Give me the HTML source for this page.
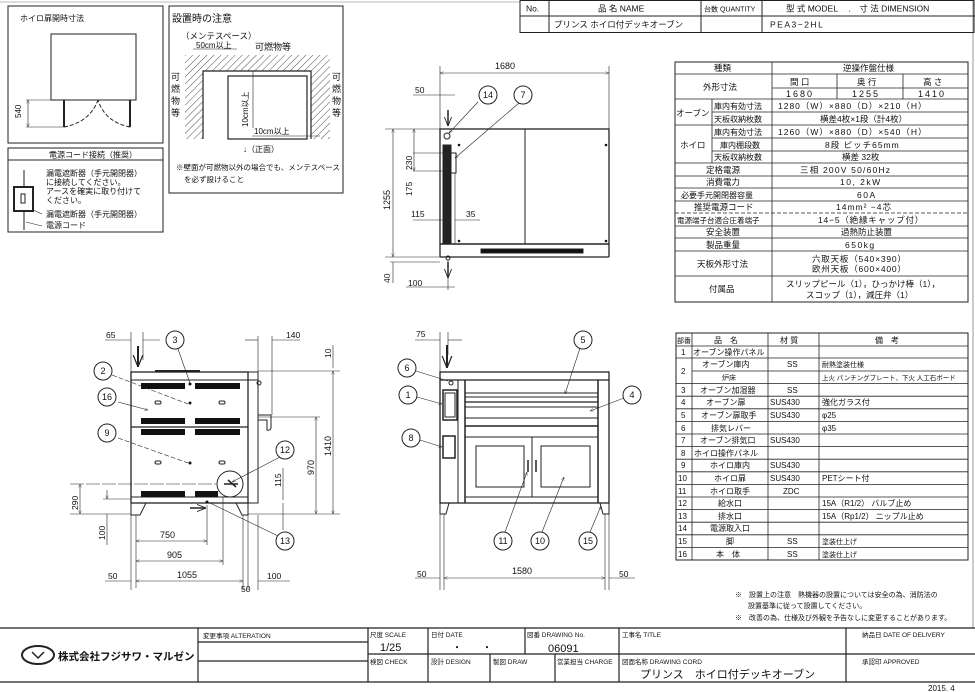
<!DOCTYPE html>
<html><head><meta charset="utf-8"><style>
html,body{margin:0;padding:0;background:#fff;}
svg{display:block;font-family:"Liberation Sans","Noto Sans CJK JP",sans-serif;}
text{fill:#111;}
</style></head><body>
<svg width="975" height="692" viewBox="0 0 975 692" xmlns="http://www.w3.org/2000/svg">
<defs>
<pattern id="h" width="5" height="5" patternUnits="userSpaceOnUse" patternTransform="rotate(45)"><line x1="0" y1="0" x2="0" y2="5" stroke="#222" stroke-width="0.8"/></pattern>
<marker id="a" viewBox="0 0 10 10" refX="10" refY="5" markerWidth="6" markerHeight="6" orient="auto-start-reverse"><path d="M0,1 L10,5 L0,9" fill="none" stroke="#222" stroke-width="1"/></marker>
</defs>
<g fill="none" stroke="#222" stroke-width="1">
<line x1="973" y1="0" x2="973" y2="628" stroke="#999"/>
<line x1="0" y1="2" x2="520" y2="2" stroke="#bbb"/>
<rect x="520" y="0.5" width="454" height="32"/>
<line x1="520" y1="16" x2="975" y2="16"/>
<line x1="549" y1="0" x2="549" y2="32"/><line x1="701" y1="0" x2="701" y2="32"/><line x1="762" y1="0" x2="762" y2="32"/>
<rect x="8" y="6" width="155" height="137"/>
<rect x="51" y="34" width="85" height="66"/>
<line x1="64" y1="100" x2="64" y2="127" stroke-width="2"/><line x1="130" y1="100" x2="130" y2="127" stroke-width="2"/>
<path d="M64,127 Q90,122 98,100" stroke-dasharray="4,2"/><path d="M130,127 Q105,122 98,100" stroke-dasharray="4,2"/>
<line x1="26" y1="100" x2="64" y2="100" stroke-width=".6"/><line x1="26" y1="127" x2="64" y2="127" stroke-width=".6"/>
<line x1="28" y1="100" x2="28" y2="127" stroke-width=".6" marker-start="url(#a)" marker-end="url(#a)"/>
<rect x="8" y="148" width="155" height="84"/>
<line x1="8" y1="160" x2="163" y2="160"/>
<line x1="24" y1="170" x2="24" y2="230"/>
<rect x="14" y="187" width="19" height="24" fill="#fff" stroke-width="2"/>
<rect x="21" y="194" width="4" height="9"/>
<line x1="33" y1="210" x2="42" y2="214" stroke-width=".6"/><line x1="26" y1="222" x2="42" y2="226" stroke-width=".6"/>
<rect x="169" y="6" width="174" height="187"/>
<path d="M185,139 V55 H330 V139 H311 V71 H203 V139 Z" fill="url(#h)" stroke="none"/>
<path d="M203,139 V71 H311 V139" stroke-width="1.2"/>
<rect x="228" y="76" width="79" height="63" fill="#fff" stroke-width="1.2"/>
<line x1="253" y1="71" x2="253" y2="128" stroke-width=".6"/>
<line x1="252" y1="136" x2="320" y2="136" stroke-width=".6"/>
<line x1="193" y1="49" x2="237" y2="49" stroke-width=".6"/>
<rect x="675" y="62" width="293" height="240"/>
<g stroke-width=".8">
<line x1="772" y1="62" x2="772" y2="302"/>
<line x1="675" y1="74" x2="968" y2="74"/>
<line x1="772" y1="88" x2="968" y2="88"/>
<line x1="837" y1="74" x2="837" y2="99"/><line x1="903" y1="74" x2="903" y2="99"/>
<line x1="675" y1="99" x2="968" y2="99"/>
<line x1="712" y1="112" x2="968" y2="112"/>
<line x1="675" y1="125" x2="968" y2="125"/>
<line x1="712" y1="138" x2="968" y2="138"/>
<line x1="712" y1="151" x2="968" y2="151"/>
<line x1="712" y1="99" x2="712" y2="163"/>
<line x1="675" y1="163" x2="968" y2="163"/>
<line x1="675" y1="176" x2="968" y2="176"/>
<line x1="675" y1="188" x2="968" y2="188"/>
<line x1="675" y1="201" x2="968" y2="201"/>
<line x1="675" y1="213" x2="968" y2="213" stroke-dasharray="4,2"/>
<line x1="675" y1="226" x2="968" y2="226"/>
<line x1="675" y1="238" x2="968" y2="238"/>
<line x1="675" y1="251" x2="968" y2="251"/>
<line x1="675" y1="276" x2="968" y2="276"/>
</g>
<rect x="676" y="333" width="292" height="227"/>
<g stroke-width=".8">
<line x1="692" y1="333" x2="692" y2="560"/><line x1="768" y1="333" x2="768" y2="560"/><line x1="819" y1="333" x2="819" y2="560"/>
<line x1="676" y1="346" x2="968" y2="346"/><line x1="676" y1="358" x2="968" y2="358"/>
<line x1="692" y1="371" x2="968" y2="371"/>
<line x1="676" y1="383.6" x2="968" y2="383.6"/><line x1="676" y1="396.2" x2="968" y2="396.2"/><line x1="676" y1="408.8" x2="968" y2="408.8"/><line x1="676" y1="421.4" x2="968" y2="421.4"/><line x1="676" y1="434" x2="968" y2="434"/><line x1="676" y1="446.6" x2="968" y2="446.6"/><line x1="676" y1="459.2" x2="968" y2="459.2"/><line x1="676" y1="471.8" x2="968" y2="471.8"/><line x1="676" y1="484.4" x2="968" y2="484.4"/><line x1="676" y1="497" x2="968" y2="497"/><line x1="676" y1="509.6" x2="968" y2="509.6"/><line x1="676" y1="522.2" x2="968" y2="522.2"/><line x1="676" y1="534.8" x2="968" y2="534.8"/><line x1="676" y1="547.4" x2="968" y2="547.4"/>
</g>
<g stroke-width="1.2">
<line x1="0" y1="628" x2="975" y2="628"/>
<line x1="0" y1="682" x2="975" y2="682"/>
<line x1="198" y1="628" x2="198" y2="682"/><line x1="368" y1="628" x2="368" y2="682"/><line x1="428" y1="628" x2="428" y2="682"/><line x1="525" y1="628" x2="525" y2="654"/><line x1="490" y1="654" x2="490" y2="682"/><line x1="555" y1="654" x2="555" y2="682"/><line x1="619" y1="628" x2="619" y2="682"/><line x1="846" y1="628" x2="846" y2="682"/>
<line x1="368" y1="654" x2="975" y2="654"/>
<line x1="198" y1="642" x2="368" y2="642"/><line x1="198" y1="661" x2="368" y2="661"/>
</g>
<ellipse cx="38" cy="655" rx="16" ry="9" stroke-width="2"/>
<path d="M32,652 L38,658 L44,652" stroke-width="1.5"/>

<!-- TOP VIEW -->
<rect x="440" y="129" width="169" height="115" stroke-width="1.3"/>
<rect x="440" y="244" width="169" height="13" rx="1" stroke-width="1.3"/>
<line x1="525" y1="129" x2="525" y2="244"/>
<rect x="443" y="145" width="8" height="99" fill="#222"/>
<rect x="451" y="153" width="5" height="20"/>
<line x1="455" y1="173" x2="455" y2="244" stroke-width=".6"/>
<rect x="481" y="249" width="102" height="4" fill="#111"/>
<circle cx="447" cy="136" r="3"/>
<circle cx="448" cy="258" r="2"/>
<g fill="#111" stroke="none"><circle cx="459" cy="145" r="1.3"/><circle cx="606" cy="145" r="1.3"/><circle cx="459" cy="241" r="1.3"/><circle cx="606" cy="241" r="1.3"/></g>
<g stroke-width=".6">
<line x1="440" y1="66" x2="440" y2="129"/><line x1="609" y1="66" x2="609" y2="129"/>
<line x1="440" y1="73" x2="609" y2="73" marker-start="url(#a)" marker-end="url(#a)"/>
<line x1="385" y1="129" x2="440" y2="129"/><line x1="385" y1="257" x2="440" y2="257"/>
<line x1="393" y1="129" x2="393" y2="257" marker-start="url(#a)" marker-end="url(#a)"/>
<line x1="390" y1="262" x2="440" y2="262"/>
<line x1="393" y1="262" x2="393" y2="283"/>
<line x1="413" y1="153" x2="443" y2="153"/><line x1="413" y1="171" x2="443" y2="171"/>
<line x1="414" y1="129" x2="414" y2="171" marker-start="url(#a)" marker-end="url(#a)"/>
<line x1="413" y1="220" x2="443" y2="220"/><line x1="455" y1="220" x2="480" y2="220"/>
<line x1="413" y1="95" x2="455" y2="95"/>
<line x1="406" y1="287" x2="455" y2="287"/>
<line x1="448" y1="260" x2="448" y2="290"/>
<line x1="478" y1="102" x2="449" y2="133" marker-end="url(#a)"/>
<line x1="519" y1="103" x2="455" y2="158" marker-end="url(#a)"/>
</g>
<line x1="448" y1="110" x2="448" y2="126" stroke-width="1.5" marker-end="url(#a)"/>
<line x1="448" y1="262" x2="448" y2="278" stroke-width="1.5" marker-end="url(#a)"/>
<circle cx="488" cy="95" r="9" fill="#fff"/><circle cx="523" cy="95" r="9" fill="#fff"/>

<!-- SIDE VIEW -->
<rect x="131" y="372" width="117" height="131" stroke-width="1.3"/>
<rect x="248" y="372" width="10" height="131"/>
<line x1="131" y1="380" x2="258" y2="380"/>
<line x1="131" y1="427" x2="248" y2="427" stroke-width="1.3"/>
<line x1="131" y1="497" x2="248" y2="497"/>
<line x1="155" y1="371" x2="200" y2="371" stroke-width="2"/>
<path d="M131,503 V515 H140 L146,503"/><path d="M248,503 V515 H242 L236,503"/>
<path d="M258,415 H271 V427 Q271,431 267,430 V420 H258" stroke-width="1"/>
<circle cx="259" cy="383" r="2"/>
<g fill="#111" stroke="none">
<rect x="141" y="383" width="44" height="6"/><rect x="195" y="383" width="45" height="6"/>
<rect x="141" y="418" width="44" height="6"/><rect x="195" y="418" width="45" height="6"/>
<rect x="141" y="429" width="44" height="6"/><rect x="195" y="429" width="45" height="6"/>
<rect x="141" y="491" width="44" height="6"/><rect x="195" y="491" width="23" height="6"/>
<circle cx="190" cy="384" r="1.5"/><circle cx="190" cy="403" r="1.5"/><circle cx="190" cy="463" r="1.5"/><circle cx="207" cy="502" r="1.5"/>
</g>
<rect x="155" y="401" width="6" height="3" rx="1.5"/><rect x="219" y="401" width="6" height="3" rx="1.5"/>
<rect x="155" y="461" width="6" height="3" rx="1.5"/><rect x="219" y="461" width="6" height="3" rx="1.5"/>
<circle cx="230" cy="484" r="13" fill="#fff"/>
<path d="M224,484 H238 M228,480 L236,487" stroke-width="1.5"/>
<g stroke-width=".6">
<line x1="131" y1="332" x2="131" y2="372"/>
<line x1="143" y1="332" x2="143" y2="360"/>
<line x1="105" y1="340" x2="131" y2="340"/><line x1="143" y1="340" x2="160" y2="340"/>
<line x1="258" y1="336" x2="258" y2="372"/><line x1="272" y1="336" x2="272" y2="415"/>
<line x1="245" y1="340" x2="258" y2="340"/><line x1="272" y1="340" x2="300" y2="340"/>
<line x1="258" y1="371" x2="340" y2="371"/><line x1="258" y1="417" x2="320" y2="417"/>
<line x1="248" y1="514" x2="340" y2="514"/>
<line x1="333" y1="371" x2="333" y2="514" marker-start="url(#a)" marker-end="url(#a)"/>
<line x1="316" y1="417" x2="316" y2="514" marker-start="url(#a)" marker-end="url(#a)"/>
<line x1="283" y1="503" x2="283" y2="530"/><line x1="283" y1="468" x2="283" y2="500"/>
<line x1="333" y1="345" x2="333" y2="368"/>
<line x1="70" y1="484" x2="216" y2="484" stroke-dasharray="14,2"/>
<line x1="80" y1="484" x2="80" y2="514" marker-start="url(#a)" marker-end="url(#a)"/>
<line x1="70" y1="514" x2="131" y2="514"/>
<line x1="103" y1="499" x2="131" y2="499"/>
<line x1="107" y1="490" x2="107" y2="499" marker-end="url(#a)"/>
<line x1="107" y1="514" x2="107" y2="545"/>
<line x1="136" y1="515" x2="136" y2="588"/>
<line x1="207" y1="505" x2="207" y2="545"/>
<line x1="223" y1="497" x2="223" y2="565"/>
<line x1="243" y1="515" x2="243" y2="590"/><line x1="248" y1="515" x2="248" y2="590"/><line x1="258" y1="515" x2="258" y2="590"/>
<line x1="131" y1="515" x2="131" y2="590"/>
<line x1="136" y1="541" x2="207" y2="541" marker-start="url(#a)" marker-end="url(#a)"/>
<line x1="136" y1="561" x2="223" y2="561" marker-start="url(#a)" marker-end="url(#a)"/>
<line x1="136" y1="581" x2="243" y2="581" marker-start="url(#a)" marker-end="url(#a)"/>
<line x1="105" y1="581" x2="131" y2="581"/><line x1="258" y1="581" x2="290" y2="581"/>
<line x1="112" y1="375" x2="188" y2="404" stroke-dasharray="5,2"/>
<line x1="118" y1="402" x2="148" y2="410" marker-end="url(#a)"/>
<line x1="118" y1="438" x2="188" y2="463" stroke-dasharray="5,2"/>
<line x1="178" y1="349" x2="190" y2="383"/>
<line x1="280" y1="457" x2="232" y2="482" marker-end="url(#a)"/>
<line x1="278" y1="536" x2="210" y2="503"/>
</g>
<line x1="138" y1="346" x2="138" y2="367" stroke-width="2" marker-end="url(#a)"/>
<line x1="190" y1="508" x2="206" y2="508" stroke-width="1.5" marker-end="url(#a)"/>
<circle cx="175" cy="340" r="9" fill="#fff"/><circle cx="103" cy="371" r="9" fill="#fff"/><circle cx="107" cy="397" r="9" fill="#fff"/><circle cx="107" cy="433" r="9" fill="#fff"/><circle cx="285" cy="450" r="9" fill="#fff"/><circle cx="285" cy="541" r="9" fill="#fff"/>

<!-- FRONT VIEW -->
<rect x="440" y="372" width="169" height="131" stroke-width="1.3"/>
<line x1="440" y1="380" x2="609" y2="380" stroke-width="1.3"/>
<line x1="458" y1="380" x2="458" y2="503"/><line x1="465" y1="380" x2="465" y2="503" stroke-width="1.5"/>
<line x1="598" y1="380" x2="598" y2="503" stroke-width="1.5"/>
<line x1="465" y1="393" x2="598" y2="393"/><line x1="465" y1="397" x2="598" y2="397"/>
<line x1="465" y1="402" x2="598" y2="402" stroke-width="1.3"/><line x1="465" y1="407" x2="598" y2="407"/>
<line x1="465" y1="418" x2="598" y2="418"/><line x1="465" y1="426" x2="598" y2="426" stroke-width="1.5"/>
<line x1="465" y1="437" x2="598" y2="437"/><line x1="465" y1="497" x2="598" y2="497"/>
<line x1="532" y1="437" x2="532" y2="497"/>
<rect x="476" y="446" width="48" height="41"/><rect x="541" y="446" width="49" height="41"/>
<line x1="528" y1="460" x2="528" y2="472" stroke-width="1.5"/><line x1="536" y1="460" x2="536" y2="472" stroke-width="1.5"/>
<rect x="443" y="390" width="14" height="30" stroke-width="1.5"/><rect x="445" y="393" width="10" height="24"/>
<rect x="443" y="436" width="12" height="22" stroke-width="1.5"/>
<circle cx="451" cy="383" r="2"/>
<path d="M440,503 V514 H446 L449,503"/><path d="M609,503 V514 H603 L600,503"/>
<g stroke-width=".6">
<line x1="440" y1="332" x2="440" y2="590"/><line x1="448" y1="332" x2="448" y2="355"/>
<line x1="415" y1="340" x2="440" y2="340"/><line x1="448" y1="340" x2="462" y2="340"/>
<line x1="444" y1="514" x2="444" y2="590"/><line x1="605" y1="514" x2="605" y2="590"/><line x1="609" y1="503" x2="609" y2="590"/>
<line x1="444" y1="578" x2="605" y2="578" marker-start="url(#a)" marker-end="url(#a)"/>
<line x1="415" y1="578" x2="440" y2="578"/><line x1="609" y1="578" x2="635" y2="578"/>
<line x1="416" y1="371" x2="448" y2="381"/>
<line x1="417" y1="397" x2="442" y2="404" marker-end="url(#a)"/>
<line x1="420" y1="440" x2="442" y2="447" marker-end="url(#a)"/>
<line x1="580" y1="348" x2="565" y2="394" marker-end="url(#a)"/>
<line x1="624" y1="398" x2="590" y2="411" marker-end="url(#a)"/>
<line x1="505" y1="532" x2="527" y2="472" marker-end="url(#a)"/>
<line x1="542" y1="532" x2="564" y2="477" marker-end="url(#a)"/>
<line x1="590" y1="532" x2="601" y2="506" marker-end="url(#a)"/>
</g>
<line x1="447" y1="345" x2="447" y2="368" stroke-width="2" marker-end="url(#a)"/>
<circle cx="583" cy="340" r="9" fill="#fff"/><circle cx="407" cy="368" r="9" fill="#fff"/><circle cx="408" cy="395" r="9" fill="#fff"/><circle cx="632" cy="395" r="9" fill="#fff"/><circle cx="411" cy="438" r="9" fill="#fff"/><circle cx="503" cy="541" r="9" fill="#fff"/><circle cx="540" cy="541" r="9" fill="#fff"/><circle cx="588" cy="541" r="9" fill="#fff"/>
</g>

<g font-size="8.5">
<text x="526" y="11.5">No.</text>
<text x="598" y="11.5">品 名 NAME</text>
<text x="704" y="11.5" font-size="7">台数 QUANTITY</text>
<text x="786" y="11.5">型 式 MODEL　 .　寸 法 DIMENSION</text>
<text x="554" y="27.5">プリンス ホイロ付デッキオーブン</text>
<text x="770" y="27.5" letter-spacing="1.5">PEA3−2HL</text>
<text x="20" y="21" font-size="8">ホイロ扉開時寸法</text>
<text x="21" y="118" font-size="8" transform="rotate(-90 21 118)">540</text>
<text x="49" y="157.5" font-size="8">電源コード接続（推奨）</text>
<text x="46" y="176" font-size="8">漏電遮断器（手元開閉器）</text>
<text x="46" y="185" font-size="8">に接続してください。</text>
<text x="46" y="194" font-size="8">アースを確実に取り付けて</text>
<text x="46" y="203" font-size="8">ください。</text>
<text x="46" y="217" font-size="8">漏電遮断器（手元開閉器）</text>
<text x="46" y="228" font-size="8">電源コード</text>
<text x="172" y="22" font-size="10">設置時の注意</text>
<text x="181" y="39" font-size="8.5">（メンテスペース）</text>
<text x="196" y="48" font-size="8">50cm以上</text>
<text x="255" y="50" font-size="9">可燃物等</text>
<text x="171" y="80" font-size="9">可</text><text x="171" y="92" font-size="9">燃</text><text x="171" y="104" font-size="9">物</text><text x="171" y="116" font-size="9">等</text>
<text x="332" y="80" font-size="9">可</text><text x="332" y="92" font-size="9">燃</text><text x="332" y="104" font-size="9">物</text><text x="332" y="116" font-size="9">等</text>
<text x="248" y="127" font-size="8" transform="rotate(-90 248 127)">10cm以上</text>
<text x="254" y="134" font-size="8">10cm以上</text>
<text x="243" y="152" font-size="8">↓（正面）</text>
<text x="176" y="170" font-size="7.5">※壁面が可燃物以外の場合でも、メンテスペース</text>
<text x="184" y="182" font-size="7.5">を必ず設けること</text>
<g font-size="8.5">
<text x="714" y="71">種類</text><text x="843" y="71">逆操作盤仕様</text>
<text x="703" y="90">外形寸法</text>
<text x="790" y="85">間 口</text><text x="857" y="85">奥 行</text><text x="923" y="85">高 さ</text>
<text x="786" y="97" font-size="9" letter-spacing="2">1680</text><text x="852" y="97" font-size="9" letter-spacing="2">1255</text><text x="918" y="97" font-size="9" letter-spacing="2">1410</text>
<text x="676" y="116">オーブン</text><text x="714" y="109" font-size="8">庫内有効寸法</text><text x="778" y="109" letter-spacing="1">1280（W）×880（D）×210（H）</text>
<text x="714" y="122" font-size="8">天板収納枚数</text><text x="820" y="122">横差4枚×1段（計4枚）</text>
<text x="680" y="148">ホイロ</text><text x="714" y="135" font-size="8">庫内有効寸法</text><text x="778" y="135" letter-spacing="1">1260（W）×880（D）×540（H）</text>
<text x="720" y="148" font-size="8">庫内棚段数</text><text x="825" y="148" letter-spacing="1">8段 ピッチ65mm</text>
<text x="714" y="160" font-size="8">天板収納枚数</text><text x="842" y="160">横差 32枚</text>
<text x="706" y="173">定格電源</text><text x="800" y="173" letter-spacing="1.2">三相 200V 50/60Hz</text>
<text x="706" y="185">消費電力</text><text x="840" y="185" letter-spacing="1.5">10, 2kW</text>
<text x="681" y="198" font-size="8">必要手元開閉器容量</text><text x="857" y="198" letter-spacing="1.5">60A</text>
<text x="694" y="210">推奨電源コード</text><text x="836" y="210" letter-spacing="1">14mm² −4芯</text>
<text x="677" y="223" font-size="7.5">電源端子台適合圧着端子</text><text x="818" y="223" letter-spacing=".8">14−5（絶縁キャップ付）</text>
<text x="706" y="235">安全装置</text><text x="841" y="235">過熱防止装置</text>
<text x="706" y="248">製品重量</text><text x="845" y="248" letter-spacing="1.5">650kg</text>
<text x="697" y="267">天板外形寸法</text><text x="812" y="262" letter-spacing=".8">六取天板（540×390）</text><text x="812" y="272" letter-spacing=".8">欧州天板（600×400）</text>
<text x="709" y="292">付属品</text><text x="786" y="287">スリップピール（1），ひっかけ棒（1），</text><text x="806" y="298">スコップ（1），減圧弁（1）</text>
</g>
<g font-size="8">
<text x="677" y="343" font-size="7">部番</text><text x="714" y="343">品　名</text><text x="780" y="343">材 質</text><text x="875" y="343">備　考</text>
<text x="681" y="355">1</text><text x="693" y="355">オーブン操作パネル</text>
<text x="681" y="374">2</text><text x="702" y="367">オーブン庫内</text><text x="787" y="367">SS</text><text x="822" y="367" font-size="7">耐熱塗装仕様</text>
<text x="722" y="380" font-size="7">炉床</text><text x="822" y="380" font-size="6.5">上火 パンチングプレート、下火 人工石ボード</text>
<text x="681" y="393">3</text><text x="700" y="393">オーブン加湿器</text><text x="787" y="393">SS</text>
<text x="681" y="405">4</text><text x="706" y="405">オーブン扉</text><text x="770" y="405">SUS430</text><text x="822" y="405">強化ガラス付</text>
<text x="681" y="418">5</text><text x="701" y="418">オーブン扉取手</text><text x="770" y="418">SUS430</text><text x="822" y="418">φ25</text>
<text x="681" y="431">6</text><text x="711" y="431">排気レバー</text><text x="822" y="431">φ35</text>
<text x="681" y="443">7</text><text x="700" y="443">オーブン排気口</text><text x="770" y="443">SUS430</text>
<text x="681" y="456">8</text><text x="694" y="456">ホイロ操作パネル</text>
<text x="681" y="468">9</text><text x="710" y="468">ホイロ庫内</text><text x="770" y="468">SUS430</text>
<text x="678" y="481">10</text><text x="714" y="481">ホイロ扉</text><text x="770" y="481">SUS430</text><text x="822" y="481">PETシート付</text>
<text x="678" y="494">11</text><text x="710" y="494">ホイロ取手</text><text x="783" y="494">ZDC</text>
<text x="678" y="506">12</text><text x="718" y="506">給水口</text><text x="822" y="506">15A（R1/2） バルブ止め</text>
<text x="678" y="519">13</text><text x="718" y="519">排水口</text><text x="822" y="519">15A（Rp1/2） ニップル止め</text>
<text x="678" y="531">14</text><text x="710" y="531">電源取入口</text>
<text x="678" y="544">15</text><text x="726" y="544">脚</text><text x="787" y="544">SS</text><text x="822" y="544" font-size="7">塗装仕上げ</text>
<text x="678" y="557">16</text><text x="716" y="557">本　体</text><text x="787" y="557">SS</text><text x="822" y="557" font-size="7">塗装仕上げ</text>
</g>
<g font-size="7">
<text x="735" y="597">※　設置上の注意　熱機器の設置については安全の為、消防法の</text>
<text x="748" y="608">設置基準に従って設置してください。</text>
<text x="735" y="620">※　改善の為、仕様及び外観を予告なしに変更することがあります。</text>
</g>
<g font-size="6.5">
<text x="203" y="638">変更事項 ALTERATION</text>
<text x="370" y="637">尺度 SCALE</text><text x="431" y="637">日付 DATE</text><text x="527" y="637">図番 DRAWING No.</text>
<text x="622" y="637">工事名 TITLE</text><text x="862" y="637">納品日 DATE OF DELIVERY</text>
<text x="370" y="664">検図 CHECK</text><text x="431" y="664">設計 DESIGN</text><text x="493" y="664">製図 DRAW</text><text x="557" y="664">営業担当 CHARGE</text>
<text x="622" y="664">図面名称 DRAWING CORD</text><text x="862" y="664">承認印 APPROVED</text>
</g>
<text x="380" y="651" font-size="11">1/25</text>
<text x="452" y="651" font-size="10">・　　・</text>
<text x="548" y="652" font-size="11">06091</text>
<text x="640" y="678" font-size="11">プリンス　ホイロ付デッキオーブン</text>
<text x="58" y="660" font-size="10.5" font-weight="bold">株式会社フジサワ・マルゼン</text>
<text x="928" y="691" font-size="8">2015. 4</text>
<text x="495" y="69" font-size="9">1680</text>
<text x="415" y="93" font-size="8.5">50</text>
<text x="390" y="210" font-size="9" transform="rotate(-90 390 210)">1255</text>
<text x="412" y="170" font-size="8.5" transform="rotate(-90 412 170)">230</text>
<text x="412" y="196" font-size="8.5" transform="rotate(-90 412 196)">175</text>
<text x="411" y="217" font-size="8.5">115</text><text x="466" y="217" font-size="8.5">35</text>
<text x="390" y="283" font-size="8.5" transform="rotate(-90 390 283)">40</text>
<text x="408" y="286" font-size="8.5">100</text>
<text x="106" y="338" font-size="8.5">65</text><text x="286" y="338" font-size="8.5">140</text>
<text x="331" y="358" font-size="8.5" transform="rotate(-90 331 358)">10</text>
<text x="331" y="456" font-size="9" transform="rotate(-90 331 456)">1410</text>
<text x="314" y="475" font-size="9" transform="rotate(-90 314 475)">970</text>
<text x="281" y="487" font-size="8.5" transform="rotate(-90 281 487)">115</text>
<text x="78" y="510" font-size="8.5" transform="rotate(-90 78 510)">290</text>
<text x="105" y="540" font-size="8.5" transform="rotate(-90 105 540)">100</text>
<text x="160" y="538" font-size="9">750</text><text x="167" y="558" font-size="9">905</text><text x="177" y="578" font-size="9">1055</text>
<text x="108" y="579" font-size="8.5">50</text><text x="267" y="579" font-size="8.5">100</text><text x="241" y="592" font-size="8.5">50</text>
<text x="416" y="337" font-size="8.5">75</text>
<text x="512" y="574" font-size="9">1580</text>
<text x="417" y="577" font-size="8.5">50</text><text x="619" y="577" font-size="8.5">50</text>
<g font-size="9" text-anchor="middle">
<text x="488" y="98">14</text><text x="523" y="98">7</text>
<text x="175" y="343">3</text><text x="103" y="374">2</text><text x="107" y="400">16</text><text x="107" y="436">9</text><text x="285" y="453">12</text><text x="285" y="544">13</text>
<text x="583" y="343">5</text><text x="407" y="371">6</text><text x="408" y="398">1</text><text x="632" y="398">4</text><text x="411" y="441">8</text><text x="503" y="544">11</text><text x="540" y="544">10</text><text x="588" y="544">15</text>
</g>
</g>
</svg>
</body></html>
